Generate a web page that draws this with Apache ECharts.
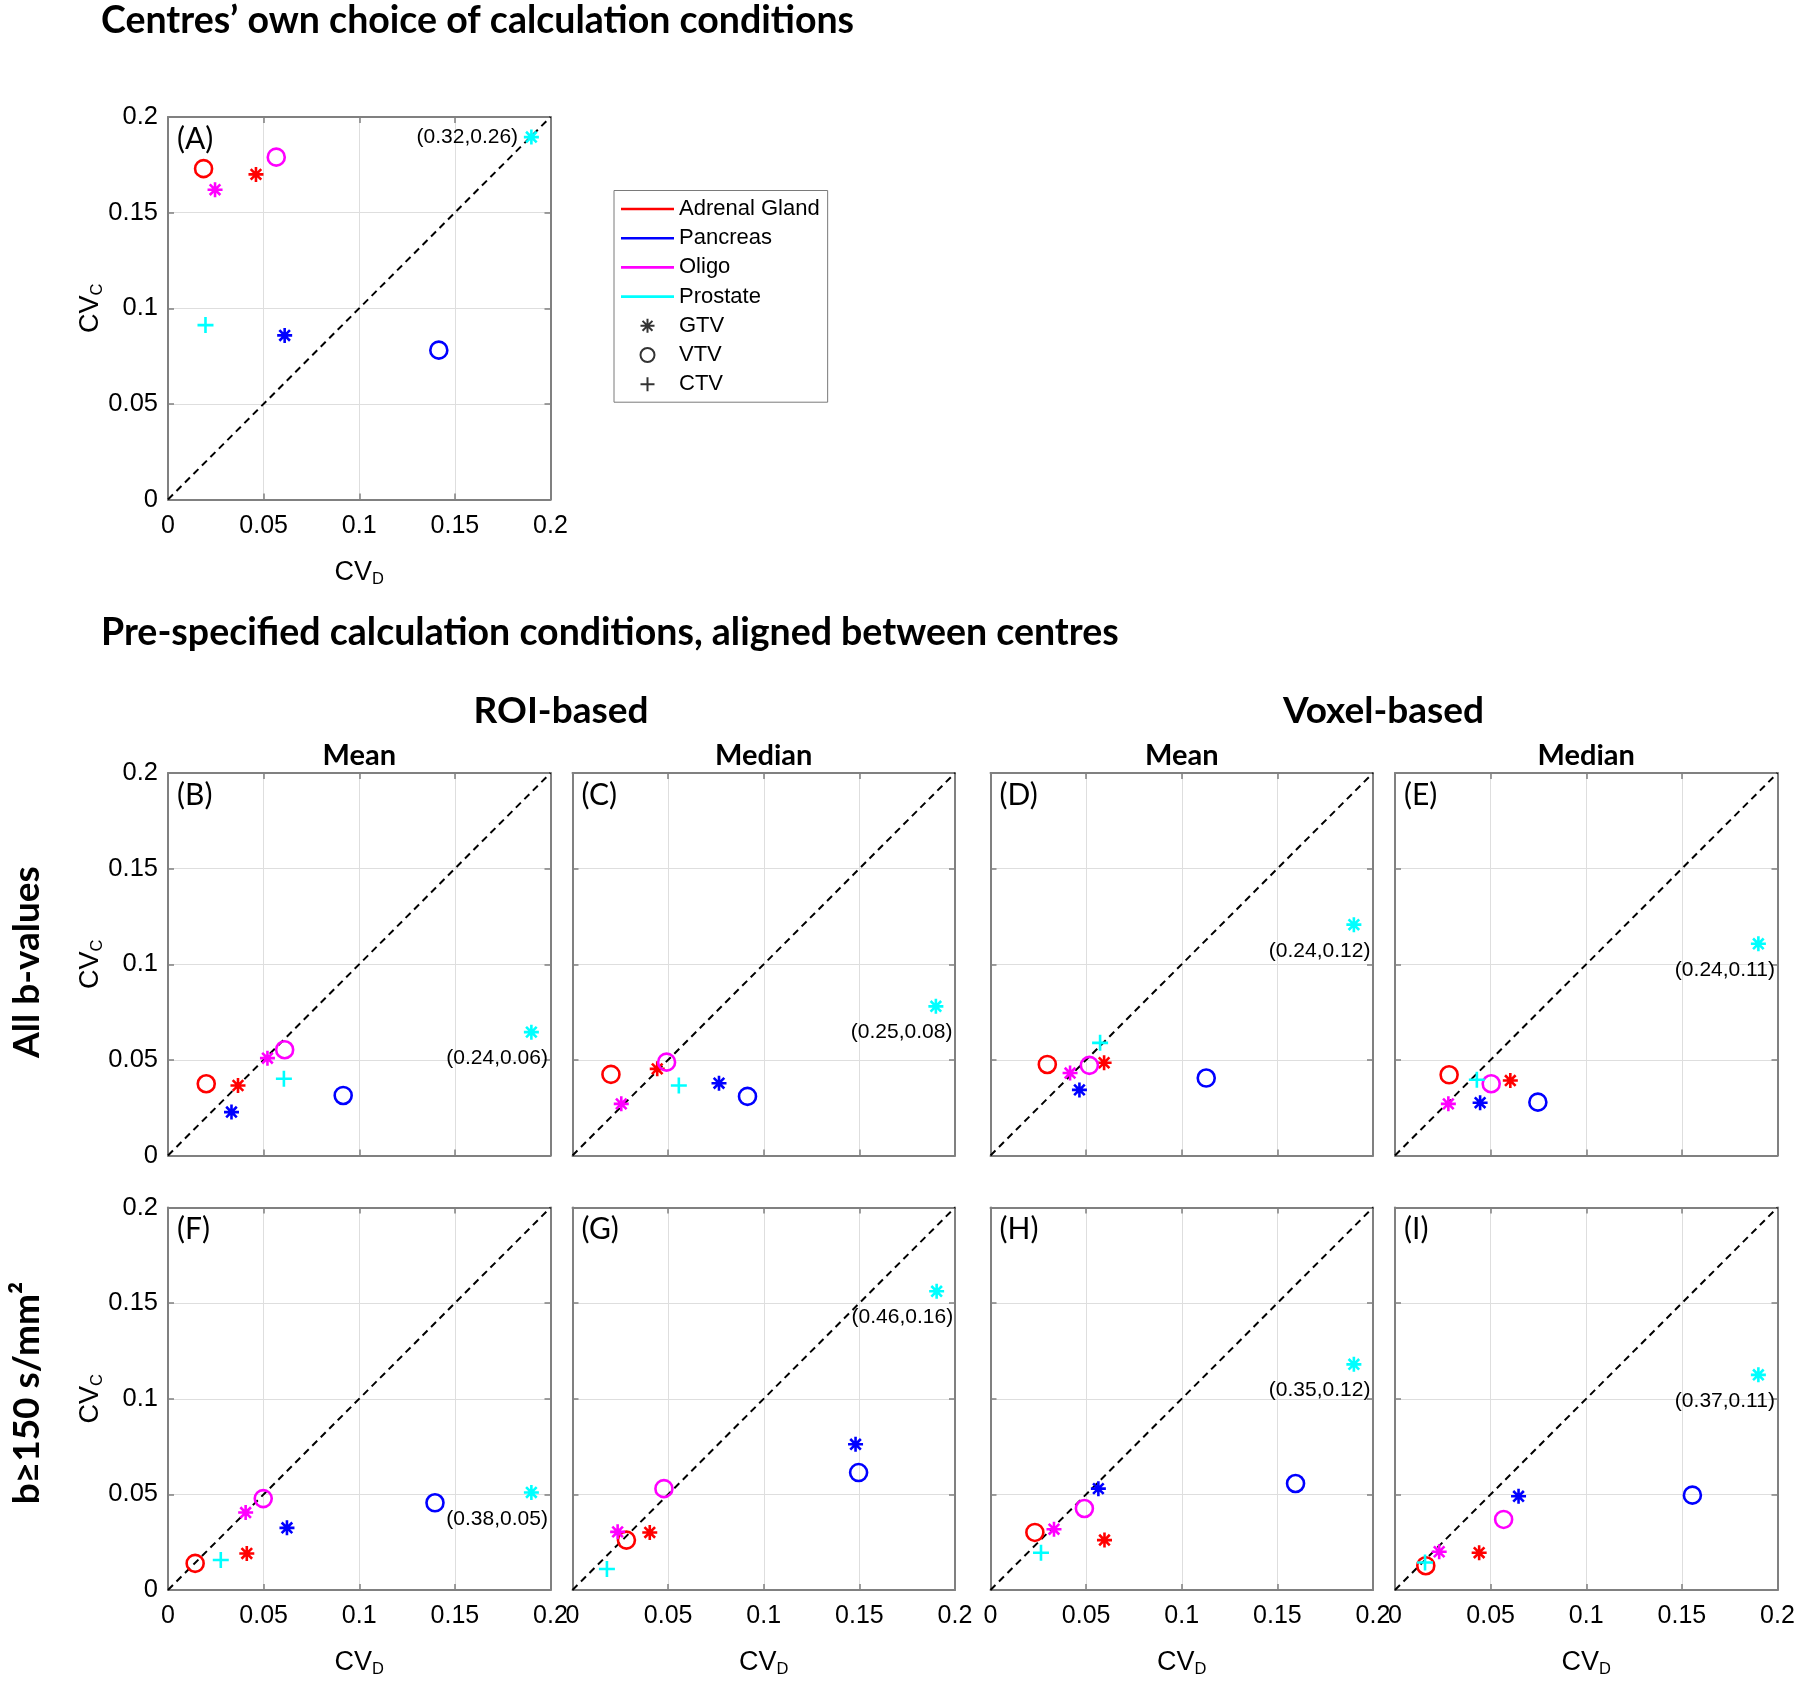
<!DOCTYPE html>
<html>
<head>
<meta charset="utf-8">
<script src="https://cdn.jsdelivr.net/npm/echarts@6/dist/echarts.min.js"></script>
<style>html,body{margin:0;padding:0;background:#fff;}#chart{width:1800px;height:1681px;}</style>
</head>
<body>
<div id="chart"></div>
<script>
// ---------------- DATA (panel order: A, B, C, D, E, F, G, H, I) ----------------
const panelNames = ['(A)', '(B)', '(C)', '(D)', '(E)', '(F)', '(G)', '(H)', '(I)'];
const axisTicks = [0, 0.05, 0.1, 0.15, 0.2];
const identityLine = [[0, 0], [0.2, 0.2]];

const adrenalGTV  = [[0.046,0.170],[0.0366,0.0366],[0.0443,0.0453],[0.0594,0.0485],[0.0603,0.0392],[0.0412,0.0191],[0.0404,0.0301],[0.0596,0.0261],[0.044,0.0195]];
const adrenalVTV  = [[0.0186,0.173],[0.020,0.0375],[0.0201,0.0424],[0.0297,0.0476],[0.0283,0.0422],[0.0142,0.0139],[0.0282,0.0261],[0.0232,0.0301],[0.0161,0.0127]];
const pancreasGTV = [[0.061,0.0858],[0.0332,0.0227],[0.0766,0.0378],[0.0465,0.0343],[0.0445,0.0276],[0.0622,0.0325],[0.148,0.0762],[0.0564,0.053],[0.0646,0.049]];
const pancreasVTV = [[0.1416,0.0781],[0.0916,0.0314],[0.0915,0.0309],[0.1128,0.0405],[0.0747,0.0279],[0.1396,0.0456],[0.1496,0.0614],[0.1595,0.0557],[0.1555,0.0496]];
const oligoGTV    = [[0.0246,0.162],[0.052,0.0509],[0.0255,0.027],[0.0416,0.0431],[0.0279,0.027],[0.0406,0.0405],[0.0236,0.0304],[0.0332,0.0318],[0.0231,0.020]];
const oligoVTV    = [[0.0566,0.179],[0.061,0.0553],[0.0492,0.0488],[0.0517,0.0471],[0.0503,0.0375],[0.0498,0.0478],[0.0478,0.053],[0.0491,0.0426],[0.0568,0.0369]];
const prostateGTV = [[0.19,0.1895],[0.19,0.0645],[0.19,0.078],[0.19,0.1207],[0.19,0.1107],[0.19,0.051],[0.1904,0.1562],[0.19,0.118],[0.19,0.1125]];
const prostateCTV = [[0.0196,0.0912],[0.0606,0.0401],[0.0556,0.0366],[0.0573,0.0589],[0.0428,0.0396],[0.0276,0.0157],[0.018,0.011],[0.0264,0.0195],[0.0157,0.0144]];
// true (off-scale) values of the prostate GTV points
const prostateGTVLabels = ['(0.32,0.26)','(0.24,0.06)','(0.25,0.08)','(0.24,0.12)','(0.24,0.11)','(0.38,0.05)','(0.46,0.16)','(0.35,0.12)','(0.37,0.11)'];

const legendOrgans = ['Adrenal Gland', 'Pancreas', 'Oligo', 'Prostate'];
const legendVolumes = ['GTV', 'VTV', 'CTV'];

// ---------------- STYLE / LAYOUT ----------------
const RED = '#ff0000', BLUE = '#0000ff', MAG = '#ff00ff', CYAN = '#00ffff';
const organColors = [RED, BLUE, MAG, CYAN];
const ASTER = 'path://M0,-10L0,10M-10,0L10,0M-7.07,-7.07L7.07,7.07M-7.07,7.07L7.07,-7.07';
const PLUS = 'path://M0,-10L0,10M-10,0L10,0';
const LEGLINE = 'path://M0,0L53,0L53,2.6L0,2.6Z';
const symBy = {GTV: ASTER, VTV: 'circle', CTV: PLUS};
const sizeBy = {GTV: 15, VTV: 17, CTV: 16};

const groups = [
  {name: 'Adrenal Gland GTV', data: adrenalGTV, color: RED, vol: 'GTV'},
  {name: 'Adrenal Gland VTV', data: adrenalVTV, color: RED, vol: 'VTV'},
  {name: 'Pancreas GTV', data: pancreasGTV, color: BLUE, vol: 'GTV'},
  {name: 'Pancreas VTV', data: pancreasVTV, color: BLUE, vol: 'VTV'},
  {name: 'Oligo GTV', data: oligoGTV, color: MAG, vol: 'GTV'},
  {name: 'Oligo VTV', data: oligoVTV, color: MAG, vol: 'VTV'},
  {name: 'Prostate CTV', data: prostateCTV, color: CYAN, vol: 'CTV'},
  {name: 'Prostate GTV', data: prostateGTV, color: CYAN, vol: 'GTV', labels: prostateGTVLabels}
];

const BOX = 382.5;
const boxes = [
  {left: 168, top: 117},
  {left: 168, top: 773}, {left: 572.5, top: 773}, {left: 990.5, top: 773}, {left: 1395, top: 773},
  {left: 168, top: 1207.5}, {left: 572.5, top: 1207.5}, {left: 990.5, top: 1207.5}, {left: 1395, top: 1207.5}
];
const showX = [true, false, false, false, false, true, true, true, true];
const showY = [true, true, false, false, false, true, false, false, false];

const AX = '#808080';
const GRIDC = '#dedede';
const TICKFONT = 'Liberation Sans';
const HEAD = 'Lato';
const nameRich = {
  m: {fontSize: 27, fontFamily: TICKFONT, color: '#000', lineHeight: 30},
  s: {fontSize: 16.5, fontFamily: TICKFONT, color: '#000', lineHeight: 18, verticalAlign: 'bottom'}
};
const fmt = v => String(+(+v).toFixed(2));

const grid = [], xAxis = [], yAxis = [], series = [], graphic = [];

boxes.forEach((b, i) => {
  grid.push({left: b.left, top: b.top, width: BOX, height: BOX, outerBoundsMode: 'none', containLabel: false});
  const lineCommon = {show: true, onZero: false, lineStyle: {color: AX, width: 2}};
  const tickCommon = {show: true, inside: true, length: 6, lineStyle: {color: AX, width: 1.5}};
  xAxis.push({
    gridIndex: i, type: 'value', min: axisTicks[0], max: axisTicks[axisTicks.length - 1], interval: axisTicks[1] - axisTicks[0],
    position: 'bottom', axisLine: lineCommon, axisTick: tickCommon,
    axisLabel: {show: showX[i], margin: 14, color: '#000', fontFamily: TICKFONT, fontSize: 25, formatter: fmt},
    splitLine: {show: true, lineStyle: {color: GRIDC, width: 1}},
    name: showX[i] ? '{m|CV}{s|D}' : '', nameLocation: 'middle', nameGap: 58, nameMoveOverlap: false,
    nameTextStyle: {rich: nameRich}
  });
  xAxis.push({
    gridIndex: i, type: 'value', min: 0, max: 0.2, interval: 0.05, position: 'top',
    axisLine: lineCommon, axisTick: tickCommon, axisLabel: {show: false}, splitLine: {show: false}
  });
  yAxis.push({
    gridIndex: i, type: 'value', min: axisTicks[0], max: axisTicks[axisTicks.length - 1], interval: axisTicks[1] - axisTicks[0],
    position: 'left', axisLine: lineCommon, axisTick: tickCommon,
    axisLabel: {show: showY[i], margin: 10, color: '#000', fontFamily: TICKFONT, fontSize: 25.5, formatter: fmt},
    splitLine: {show: true, lineStyle: {color: GRIDC, width: 1}},
    name: showY[i] ? '{m|CV}{s|C}' : '', nameLocation: 'middle', nameGap: 62, nameMoveOverlap: false,
    nameTextStyle: {rich: nameRich}
  });
  yAxis.push({
    gridIndex: i, type: 'value', min: 0, max: 0.2, interval: 0.05, position: 'right',
    axisLine: lineCommon, axisTick: tickCommon, axisLabel: {show: false}, splitLine: {show: false}
  });

  series.push({
    type: 'line', xAxisIndex: 2 * i, yAxisIndex: 2 * i, data: identityLine, symbol: 'none', silent: true,
    lineStyle: {color: '#000', width: 2, type: [7, 5]}, z: 2
  });

  groups.forEach(g => {
    const item = {value: g.data[i]};
    if (g.labels) {
      const base = {show: true, formatter: g.labels[i], color: '#000', fontFamily: TICKFONT, fontSize: 21};
      if (i === 0) {
        item.label = Object.assign(base, {position: 'left', distance: 4.5, verticalAlign: 'middle'});
      } else {
        item.label = Object.assign(base, {position: 'bottom', distance: 7, align: 'right', offset: [16.5, 0]});
      }
    }
    series.push({
      type: 'scatter', name: g.name, xAxisIndex: 2 * i, yAxisIndex: 2 * i, data: [item],
      symbol: symBy[g.vol], symbolSize: sizeBy[g.vol], silent: true, z: 3,
      itemStyle: {color: 'transparent', borderColor: g.color, borderWidth: 2.6, opacity: 1}
    });
  });

  graphic.push({
    type: 'text', x: b.left + 9, y: b.top + 22, silent: true,
    style: {text: panelNames[i], fontFamily: HEAD, fontSize: 30, fill: '#000', align: 'left', verticalAlign: 'middle'}
  });
});

// legend helper series (no data)
legendOrgans.forEach((n, k) => {
  series.push({type: 'line', name: n, xAxisIndex: 0, yAxisIndex: 0, data: [], symbol: 'none', showSymbol: false,
    lineStyle: {color: organColors[k], width: 2.6}, itemStyle: {color: organColors[k]}});
});
legendVolumes.forEach(n => {
  series.push({type: 'scatter', name: n, xAxisIndex: 0, yAxisIndex: 0, data: [], symbol: symBy[n], symbolSize: 12,
    itemStyle: {color: 'transparent', borderColor: '#000', borderWidth: 2.6}});
});

// headings
const headings = [
  {text: 'Centres’ own choice of calculation conditions', x: 101, y: 21, size: 37.5, align: 'left'},
  {text: 'Pre-specified calculation conditions, aligned between centres', x: 101, y: 632.5, size: 37.5, align: 'left'},
  {text: 'ROI-based', x: 561, y: 711, size: 37, align: 'center'},
  {text: 'Voxel-based', x: 1383.5, y: 711, size: 37, align: 'center'}
];
headings.forEach(h => graphic.push({type: 'text', x: h.x, y: h.y, silent: true,
  style: {text: h.text, fontFamily: HEAD, fontWeight: 'bold', fontSize: h.size, fill: '#000', align: h.align, verticalAlign: 'middle'}}));
const colTitles = ['Mean', 'Median', 'Mean', 'Median'];
colTitles.forEach((t, c) => graphic.push({type: 'text', x: boxes[c + 1].left + BOX / 2, y: 756, silent: true,
  style: {text: t, fontFamily: HEAD, fontWeight: 'bold', fontSize: 29, fill: '#000', align: 'center', verticalAlign: 'middle'}}));
const rowTitles = [{text: 'All b-values', y: 962}, {text: 'b≥150 s/mm²', y: 1393}];
rowTitles.forEach(r => graphic.push({type: 'text', x: 27, y: r.y, rotation: Math.PI / 2, silent: true,
  style: {text: r.text, fontFamily: HEAD, fontWeight: 'bold', fontSize: 37, fill: '#000', align: 'center', verticalAlign: 'middle'}}));

const legendData = legendOrgans.map(n => ({name: n, icon: LEGLINE}))
  .concat(legendVolumes.map(n => ({name: n})));

const option = {
  animation: false,
  backgroundColor: '#fff',
  textStyle: {fontFamily: TICKFONT},
  grid, xAxis, yAxis, series, graphic,
  legend: {
    orient: 'vertical', left: 614, top: 190.5, padding: [7.5, 8, 7, 7],
    itemWidth: 53, itemHeight: 14, itemGap: 7.2, selectedMode: false, symbolKeepAspect: true,
    backgroundColor: '#fff', borderColor: '#7a7a7a', borderWidth: 1, borderRadius: 0,
    textStyle: {fontFamily: TICKFONT, fontSize: 22, lineHeight: 22, color: '#000'},
    data: legendData
  }
};

const chart = echarts.init(document.getElementById('chart'), null, {renderer: 'canvas', width: 1800, height: 1681});
chart.setOption(option);
</script>
</body>
</html>
